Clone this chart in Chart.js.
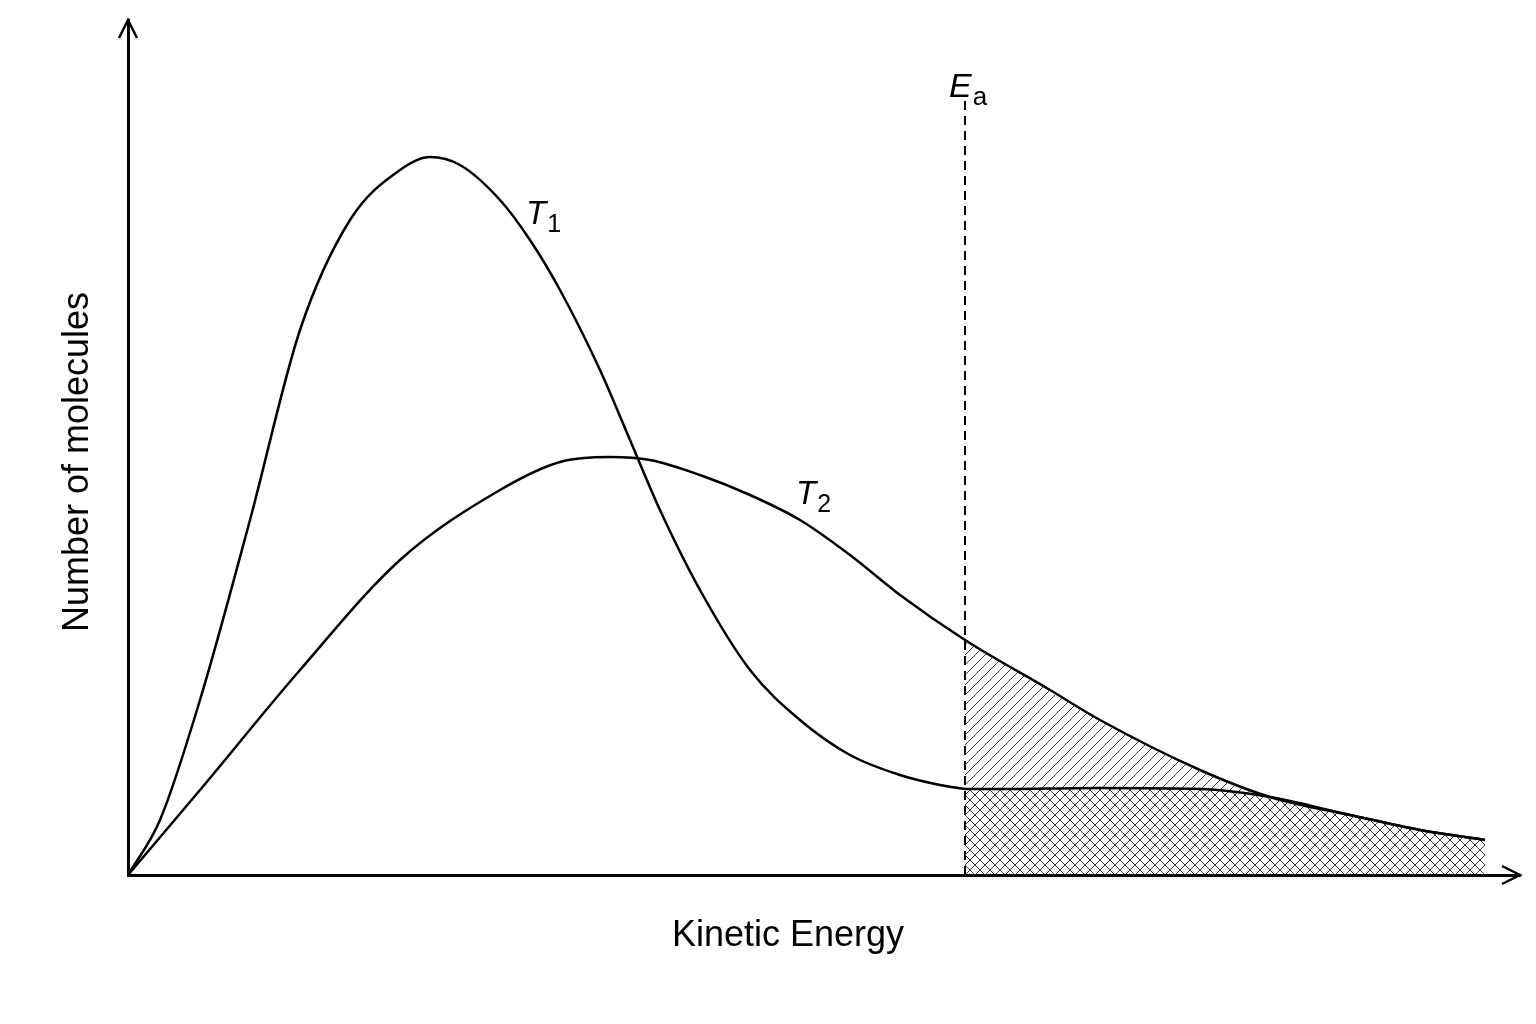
<!DOCTYPE html>
<html><head><meta charset="utf-8">
<script src="https://cdn.jsdelivr.net/npm/chart.js@4/dist/chart.umd.min.js"></script>
<style>html,body{margin:0;background:#fff}#w{width:1536px;height:1024px}</style>
</head><body><div id="w"><canvas id="c"></canvas></div>
<script>
// Data in pixel-like units: x = kinetic energy, y = number of molecules
const t1X = [0,32,72,122,172,222,272,302,332,372,402,432,472,502,532,572,622,672,722,772,812,837];
const t1Y = [0,55,175,355,545,655,705,718,710,675,635,585,505,435,365,285,205,155,120,100,90,86];
const t1TailX = [837,872,972,1072,1142,1222,1292,1357];
const t1TailY = [86,86,87,86,78,60,45,35];
const t2X = [0,72,172,272,372,432,482,522,572,622,672,722,772,837,922,972,1072,1142,1222,1292,1357];
const t2Y = [0,85,205,315,385,413,418,415,400,380,355,320,280,235,185,155,105,78,60,45,35];
const eaX = 837, eaTop = 775;
const xMax = 1392, yMax = 855;

const pts = (xs, ys) => xs.map((x, i) => ({x, y: ys[i]}));
function pattern(cross){
  const s = 10, c = document.createElement('canvas'); c.width = s; c.height = s;
  const g = c.getContext('2d'); g.strokeStyle = '#222'; g.lineWidth = 0.9;
  g.beginPath(); g.moveTo(0,s); g.lineTo(s,0); g.moveTo(-s/2,s/2); g.lineTo(s/2,-s/2); g.moveTo(s/2,s*1.5); g.lineTo(s*1.5,s/2);
  if (cross){ g.moveTo(0,0); g.lineTo(s,s); g.moveTo(-s/2,s/2); g.lineTo(s/2,s*1.5); g.moveTo(s/2,-s/2); g.lineTo(s*1.5,s/2); }
  g.stroke();
  return g.createPattern(c, 'repeat');
}
const t2Tail = pts(t2X, t2Y).filter(p => p.x >= eaX);
const F = '"Liberation Sans", Arial, sans-serif';

const deco = {
  id: 'deco',
  afterDraw(ch){
    const g = ch.ctx, a = ch.chartArea, xs = ch.scales.x, ys = ch.scales.y;
    g.save(); g.fillStyle = '#000'; g.strokeStyle = '#000'; g.lineWidth = 2.5;
    g.beginPath(); g.moveTo(a.left-9, a.top+18); g.lineTo(a.left, a.top); g.lineTo(a.left+9, a.top+18); g.stroke();
    const y0 = ys.getPixelForValue(0);
    g.beginPath(); g.moveTo(a.right-18, y0-9); g.lineTo(a.right, y0); g.lineTo(a.right-18, y0+9); g.stroke();
    g.font = '36px ' + F; g.textAlign = 'center'; g.textBaseline = 'middle';
    g.fillText('Kinetic Energy', 788, 936);
    g.save(); g.translate(78, 462); g.rotate(-Math.PI/2); g.fillText('Number of molecules', 0, 0); g.restore();
    const lab = (main, sub, x, y, s) => {
      g.textAlign = 'left'; g.font = 'italic ' + s + 'px ' + F;
      g.fillText(main, x, y); const w = g.measureText(main).width;
      g.font = Math.round(s*0.75) + 'px ' + F; g.fillText(sub, x + w + 1, y + 10);
    };
    lab('T', '1', xs.getPixelForValue(398), ys.getPixelForValue(660), 33);
    lab('T', '2', xs.getPixelForValue(668), ys.getPixelForValue(380), 33);
    lab('E', 'a', xs.getPixelForValue(821), ys.getPixelForValue(787), 34);
    g.restore();
  }
};

const line = {borderColor:'#000', borderWidth:2.5, pointRadius:0, cubicInterpolationMode:'monotone'};
new Chart(document.getElementById('c'), {
  type: 'line',
  data: { datasets: [
    {...line, data: pts(t1X, t1Y), fill:false},
    {...line, data: pts(t1TailX, t1TailY), fill:{target:'origin'}, backgroundColor: pattern(true)},
    {...line, data: t2Tail, borderColor:'rgba(0,0,0,0)', borderWidth:0, fill:{target:1}, backgroundColor: pattern(false)},
    {...line, data: pts(t2X, t2Y), fill:false},
    {data: [{x:eaX,y:0},{x:eaX,y:eaTop}], borderColor:'#000', borderWidth:2, borderDash:[9,6], pointRadius:0, fill:false}
  ]},
  options: {
    responsive:true, maintainAspectRatio:false, animation:false,
    layout:{padding:{left:128, right:16, top:20, bottom:149}},
    plugins:{legend:{display:false}, tooltip:{enabled:false}},
    scales:{
      x:{type:'linear', min:0, max:xMax, ticks:{display:false}, grid:{display:false, drawTicks:false}, border:{color:'#000', width:3}},
      y:{type:'linear', min:0, max:yMax, ticks:{display:false}, grid:{display:false, drawTicks:false}, border:{color:'#000', width:3}}
    }
  },
  plugins:[deco]
});
</script></body></html>
